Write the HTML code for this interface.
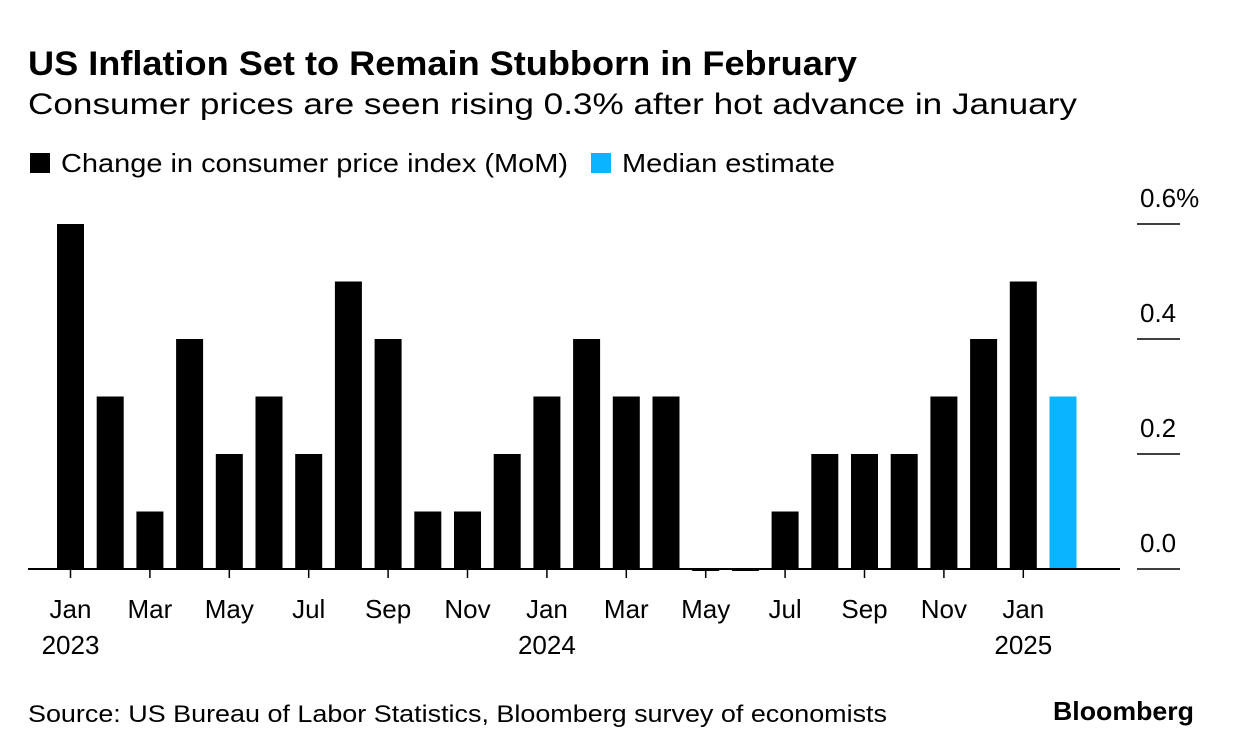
<!DOCTYPE html>
<html><head><meta charset="utf-8"><style>
body{margin:0;background:#fff;width:1233px;height:754px;overflow:hidden;font-family:"Liberation Sans",Arial,sans-serif;}
svg{display:block}
</style></head><body>
<svg width="1233" height="754">
<text x="28" y="75" font-size="34" font-weight="bold" fill="#000" textLength="829" lengthAdjust="spacingAndGlyphs">US Inflation Set to Remain Stubborn in February</text>
<text x="28" y="114" font-size="30" fill="#000" textLength="1049" lengthAdjust="spacingAndGlyphs">Consumer prices are seen rising 0.3% after hot advance in January</text>
<rect x="30" y="153" width="20" height="20" fill="#000"/>
<text x="61" y="172" font-size="26" textLength="507" lengthAdjust="spacingAndGlyphs">Change in consumer price index (MoM)</text>
<rect x="591" y="153" width="20" height="20" fill="#0ab4ff"/>
<text x="622" y="172" font-size="26" textLength="213" lengthAdjust="spacingAndGlyphs">Median estimate</text>
<g id="plot"></g>
<text x="28" y="722" font-size="24" textLength="859" lengthAdjust="spacingAndGlyphs">Source: US Bureau of Labor Statistics, Bloomberg survey of economists</text>
<text x="1194" y="720" font-size="26" font-weight="bold" text-anchor="end" textLength="141" lengthAdjust="spacingAndGlyphs">Bloomberg</text>
</svg>
<script>
const values=[0.6,0.3,0.1,0.4,0.2,0.3,0.2,0.5,0.4,0.1,0.1,0.2,0.3,0.4,0.3,0.3,0.0,0.0,0.1,0.2,0.2,0.2,0.3,0.4,0.5];
const estimate=[0.3];
const xLabels=["Jan","Mar","May","Jul","Sep","Nov","Jan","Mar","May","Jul","Sep","Nov","Jan"];
const yearLabels=["2023","","","","","","2024","","","","","","2025"];
const yTicks=[0,0.2,0.4,0.6];
const NS="http://www.w3.org/2000/svg";
const g=document.getElementById('plot');
const y0=569, pxPerUnit=575;
function y(v){return y0-v*pxPerUnit;}
function xc(i){return 70.5+i*39.7;}
function mk(t,a){const e=document.createElementNS(NS,t);for(const k in a)e.setAttribute(k,a[k]);g.appendChild(e);return e;}
const all=values.concat(estimate);
all.forEach((v,i)=>{
 const h=Math.max(Math.abs(y(v)-y0),3);
 const r=mk('rect',{x:xc(i)-13.5,y:v>0?y(v):y0-1,width:27,height:h,fill:i<values.length?'#000':'#0ab4ff'});
 
 
});
const ax=mk('line',{x1:28,x2:1120,y1:y0,y2:y0,stroke:'#000','stroke-width':2});


xLabels.forEach((l,k)=>{
 const i=k*2;
 const t=mk('line',{x1:xc(i),x2:xc(i),y1:y0,y2:y0+9,stroke:'#000','stroke-width':1.5});
 
 
 const tx=mk('text',{x:xc(i),y:618,'font-size':26,'text-anchor':'middle'});tx.textContent=l;
 
 
 if(yearLabels[k]){const yt=mk('text',{x:xc(i),y:654,'font-size':26,'text-anchor':'middle'});yt.textContent=yearLabels[k];
 
 }
});
yTicks.forEach(v=>{
 const l=mk('line',{x1:1137,x2:1180,y1:y(v),y2:y(v),stroke:'#000','stroke-width':1.5});
 
 
 const t=mk('text',{x:1140,y:y(v)-17,'font-size':26});t.textContent=v.toFixed(1)+(v===0.6?'%':'');
 
 
});
</script>
</body></html>
